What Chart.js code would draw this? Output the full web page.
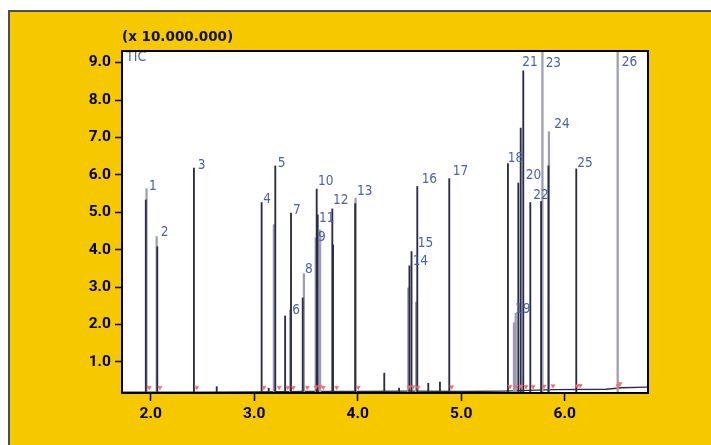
<!DOCTYPE html>
<html><head><meta charset="utf-8">
<script src="https://cdn.jsdelivr.net/npm/chart.js@4/dist/chart.umd.min.js"></script>
<style>
html,body{margin:0;padding:0;background:#fff;}
#wrap{position:relative;width:711px;height:445px;overflow:hidden;}
#frame{position:absolute;left:8px;top:10px;width:720px;height:450px;background:#f5c800;border-left:2px solid #4d4d4d;border-top:2px solid #4d4d4d;}
canvas{position:absolute;left:0;top:0;}
</style></head><body>
<div id="wrap"><div id="frame"></div><canvas id="c" width="711" height="445"></canvas></div>
<script>
// ---- data (retention time in min, intensity x 10.000.000) ----
const xTicks = [2.0, 3.0, 4.0, 5.0, 6.0];
const yTicks = [1.0, 2.0, 3.0, 4.0, 5.0, 6.0, 7.0, 8.0, 9.0];
const yTitle = '(x 10.000.000)';
const traceName = 'TIC';

// dark trace peaks
const darkTimes   = [1.953, 2.064, 2.418, 2.638, 3.072, 3.140, 3.204, 3.299, 3.356, 3.469, 3.604, 3.614, 3.755, 3.762, 3.976, 4.257, 4.400, 4.500, 4.520, 4.576, 4.682, 4.795, 4.885, 5.452, 5.552, 5.575, 5.600, 5.668, 5.772, 5.843, 6.112];
const darkHeights = [5.33,  4.08,  6.18,  0.34,  5.26,  0.30,  6.24,  2.23,  4.98,  2.71,  5.62,  4.93,  5.09,  4.13,  5.23,  0.70,  0.30,  3.57,  3.95,  5.69,  0.43,  0.46,  5.90,  6.30,  5.78,  7.25,  8.78,  5.26,  5.29,  6.24,  6.16];

// light (grey) trace peaks, incl. the off-scale peaks 23 and 26
const lightTimes   = [1.960, 2.058, 3.190, 3.348, 3.480, 3.595, 3.637, 3.980, 4.489, 4.565, 5.510, 5.527, 5.785, 5.848, 6.512];
const lightHeights = [5.63,  4.35,  4.67,  2.39,  3.36,  4.32,  4.53,  5.38,  2.98,  2.60,  2.05,  2.30,  12.0,  7.15,  12.0];

// baseline drift
const baseTimes  = [1.72, 2.50, 3.00, 3.50, 4.00, 4.50, 5.00, 5.40, 5.90, 6.40, 6.55, 6.81];
const baseValues = [0.19, 0.19, 0.20, 0.21, 0.21, 0.22, 0.21, 0.22, 0.26, 0.27, 0.31, 0.33];

// red integration marks
const markTimes  = [1.986, 2.090, 2.444, 3.095, 3.242, 3.324, 3.378, 3.513, 3.597, 3.636, 3.668, 3.797, 4.006, 4.496, 4.534, 4.583, 4.908, 5.471, 5.529, 5.578, 5.626, 5.694, 5.800, 5.887, 6.121, 6.150, 6.517, 6.535];
const markValues = [0.32, 0.32, 0.32, 0.32, 0.32, 0.32, 0.32, 0.32, 0.33, 0.34, 0.32, 0.32, 0.32, 0.33, 0.33, 0.32, 0.33, 0.34, 0.34, 0.35, 0.34, 0.34, 0.35, 0.36, 0.36, 0.37, 0.36, 0.42];

// peak numbers and where they are written (time, intensity)
const peakLabels = ['1','2','3','4','5','6','7','8','9','10','11','12','13','14','15','16','17','18','19','20','21','22','23','24','25','26'];
const labelTimes = [1.984, 2.097, 2.454, 3.088, 3.227, 3.368, 3.375, 3.491, 3.616, 3.616, 3.626, 3.761, 3.993, 4.531, 4.580, 4.618, 4.918, 5.449, 5.520, 5.623, 5.590, 5.697, 5.816, 5.900, 6.122, 6.551];
const labelValues= [5.695, 4.452, 6.243, 5.334, 6.297, 2.366, 5.048, 3.463, 4.326, 5.816, 4.826, 5.307, 5.556, 3.684, 4.158, 5.888, 6.102, 6.449, 2.393, 5.984, 9.016, 5.441, 8.989, 7.340, 6.316, 9.005];

const xMin = 1.723, xMax = 6.805, yMin = 0.17, yMax = 9.31;

const toXY = (xs, ys) => xs.map((x, i) => ({x: x, y: ys[i]}));
const NARROW = "'Liberation Sans Narrow', 'DejaVu Sans Condensed', sans-serif";
const TICKFONT = "Roboto, 'DejaVu Sans Condensed', sans-serif";
const BLUE = '#4b62ac';

const overlay = {
  id: 'overlay',
  beforeDraw(chart) {
    const {ctx, chartArea: a} = chart;
    ctx.save();
    ctx.fillStyle = '#ffffff';
    ctx.fillRect(a.left, a.top, a.right - a.left, a.bottom - a.top);
    ctx.restore();
  },
  afterDraw(chart) {
    const {ctx, chartArea: a, scales} = chart;
    ctx.save();
    // peak numbers
    ctx.font = "13.5px " + NARROW;
    ctx.fillStyle = BLUE;
    ctx.textAlign = 'left';
    ctx.textBaseline = 'middle';
    peakLabels.forEach((t, i) => {
      ctx.fillText(t, scales.x.getPixelForValue(labelTimes[i]), scales.y.getPixelForValue(labelValues[i]));
    });
    // TIC label, clipped by the plot frame
    ctx.save();
    ctx.beginPath();
    ctx.rect(a.left, a.top, a.right - a.left, a.bottom - a.top);
    ctx.clip();
    ctx.font = "14px " + NARROW;
    ctx.textBaseline = 'alphabetic';
    ctx.fillText(traceName, a.left + 4, a.top + 10);
    ctx.restore();
    // plot frame
    ctx.strokeStyle = '#000';
    ctx.lineWidth = 2;
    ctx.strokeRect(a.left, a.top, a.right - a.left, a.bottom - a.top);
    // unit title
    ctx.fillStyle = '#111';
    ctx.font = "bold 13.5px 'DejaVu Sans', sans-serif";
    ctx.textBaseline = 'middle';
    ctx.fillText(yTitle, a.left, a.top - 13.5);
    ctx.restore();
  }
};

new Chart(document.getElementById('c').getContext('2d'), {
  type: 'bar',
  data: {
    datasets: [
      { type: 'scatter', label: 'marks', data: toXY(markTimes, markValues), order: 0, clip: 0,
        pointStyle: 'triangle', rotation: 180, pointRadius: 2.4, backgroundColor: '#f06a6a', borderColor: '#f06a6a', borderWidth: 0.5 },
      { type: 'bar', label: 'dark', data: toXY(darkTimes, darkHeights), order: 1, clip: 0,
        backgroundColor: '#2b2b4a', barThickness: 1.2, grouped: false },
      { type: 'bar', label: 'light', data: toXY(lightTimes, lightHeights), order: 2, clip: 0,
        backgroundColor: '#9d9db6', barThickness: 1.6, grouped: false },
      { type: 'line', label: 'baseline', data: toXY(baseTimes, baseValues), order: 3, clip: 0,
        borderColor: '#2b2b4a', borderWidth: 1.3, pointRadius: 0, tension: 0 }
    ]
  },
  options: {
    responsive: false,
    animation: false,
    events: [],
    layout: { padding: { top: 51, right: 63, left: 0, bottom: 0 } },
    plugins: { legend: { display: false }, tooltip: { enabled: false }, title: { display: false } },
    scales: {
      x: {
        type: 'linear', min: xMin, max: xMax, offset: false,
        afterFit(s) { s.height = 52; },
        afterBuildTicks(s) { s.ticks = xTicks.map(v => ({value: v})); },
        grid: { display: true, drawOnChartArea: false, drawTicks: true, tickLength: 8, tickWidth: 1.5, tickColor: '#000', offset: false },
        border: { display: false },
        ticks: { color: '#000', padding: 4, maxRotation: 0, autoSkip: false,
                 font: { family: TICKFONT, size: 15.5, weight: 'bold' },
                 callback: v => Number(v).toFixed(1) }
      },
      y: {
        type: 'linear', min: yMin, max: yMax,
        afterFit(s) { s.width = 122; },
        afterBuildTicks(s) { s.ticks = yTicks.map(v => ({value: v})); },
        grid: { display: true, drawOnChartArea: false, drawTicks: true, tickLength: 7, tickWidth: 1.5, tickColor: '#000' },
        border: { display: false },
        ticks: { color: '#000', padding: 4, autoSkip: false,
                 font: { family: TICKFONT, size: 15.5, weight: 'bold' },
                 callback: v => Number(v).toFixed(1) }
      }
    }
  },
  plugins: [overlay]
});
</script>
</body></html>
